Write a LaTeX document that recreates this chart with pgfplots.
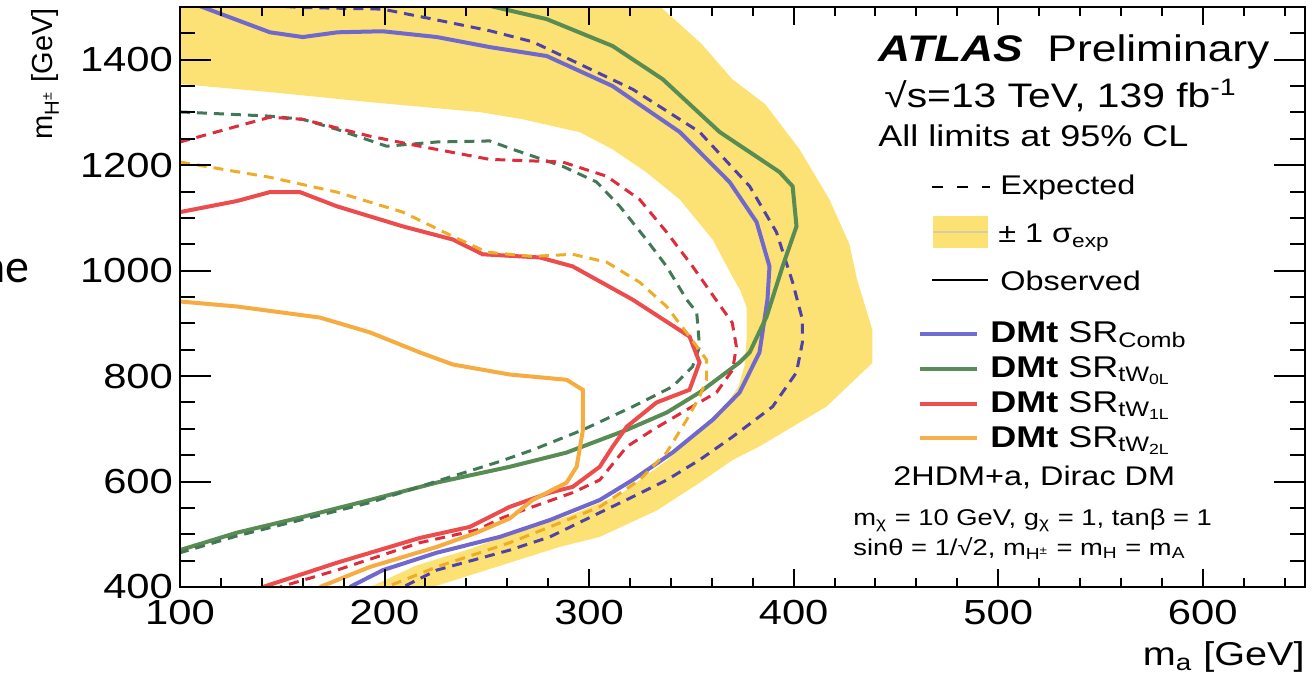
\documentclass[border=0pt]{standalone}
\usepackage{fontspec}
\setmainfont{Liberation Sans}[FakeStretch=1.2]
\newfontfamily\plainsans{Liberation Sans}
\newfontfamily\slidefont{Carlito}
\usepackage{pgfplots}
\pgfplotsset{compat=1.18}

\definecolor{band}{RGB}{252,226,116}
\definecolor{cblue}{RGB}{112,104,204}
\definecolor{cbluedash}{RGB}{80,64,170}
\definecolor{cgreen}{RGB}{88,140,84}
\definecolor{cgreendash}{RGB}{66,120,86}
\definecolor{cred}{RGB}{236,76,76}
\definecolor{creddash}{RGB}{222,44,60}
\definecolor{corange}{RGB}{246,172,64}
\definecolor{corangedash}{RGB}{238,172,40}

\newcommand{\fs}[1]{\fontsize{#1}{#1}\selectfont}

\begin{document}
\begin{tikzpicture}
\useasboundingbox (-90pt,-47pt) rectangle (568pt,293.5pt);
\begin{axis}[
  at={(0pt,0pt)}, anchor=south west,
  scale only axis, width=562.5pt, height=290pt,
  xmin=100, xmax=650, ymin=400, ymax=1500,
  xtick={100,200,...,600},
  minor xtick={100,120,...,640},
  ytick={400,600,...,1400},
  minor ytick={400,450,...,1500},
  yticklabels={},
  major tick length=9pt, minor tick length=4.5pt,
  axis line style={line width=1pt},
  tick style={line width=1pt, black},
  axis on top,
  ticklabel style={font=\fs{17.4}},
  /pgf/number format/assume math mode=true,
  /pgf/number format/set thousands separator={},
  xticklabel style={yshift=-3pt},
]
% +-1 sigma expected band (combined)
\addplot[draw=none, fill=band] coordinates {
 (100,1500) (335,1500) (355,1430) (370,1363) (386,1316) (402.9,1230)
 (417.5,1135) (427.3,1050) (431,983) (438.5,888) (438.5,825) (416,742)
 (383,666) (370.2,641) (354,597.6) (333,545) (305.2,495) (285.6,476) (223.6,400)
 (193,400) (215,440) (240,470) (262,500) (290,535) (315,575) (338,640)
 (355,700) (366,740) (373,780) (376,820) (377,870) (377,930) (374,962) (370,989)
 (360.4,1059) (344.3,1135) (328,1186.6) (311.5,1230) (295.4,1262.6)
 (267.6,1287) (246.6,1300.6) (192.8,1319.6) (144,1338.6) (100,1354)
};
% Comb observed
\addplot[cblue, line width=2pt] coordinates {
 (104,1510) (144,1452) (160,1443) (177,1452) (199,1454) (225.6,1443) (251.4,1424)
 (279.3,1407) (311.5,1350) (344.3,1263) (368.7,1168) (381.9,1092) (388.2,1008)
 (387.2,945) (383.3,845) (373.6,769) (360.4,717) (340.8,655) (321.3,603)
 (305.2,565) (280.8,527) (256.3,495) (245,484) (225.5,465) (199.2,432) (183,400)
};
% Comb expected
\addplot[cbluedash, line width=1.5pt, dash pattern=on 5pt off 3.5pt] coordinates {
 (135,1505) (160,1499) (199,1496) (223.6,1477) (251.4,1455) (272.4,1434)
 (321.3,1344) (354,1263) (378.5,1160) (391.6,1073) (399.5,978) (404.3,907)
 (404.3,864) (401.4,807) (389.7,742) (370.2,685) (354,641) (338,603)
 (321.3,571) (305.2,541) (280.8,495) (261.2,470) (225.5,432) (209,400)
};
% tW0L observed
\addplot[cgreen, line width=2pt] coordinates {
 (245,1508) (279.3,1477) (311.5,1426) (336,1363) (363.8,1263) (393.1,1187)
 (399.5,1160) (401.4,1084) (394.6,1008) (386.8,913) (378.5,845) (373.6,826)
 (354,769) (338,731) (318.4,698) (289,655) (261.2,628) (225.5,598)
 (192.8,565) (160.1,533) (127.8,503) (100,470)
};
% tW0L expected
\addplot[cgreendash, line width=1.5pt, dash pattern=on 5pt off 3.5pt] coordinates {
 (100,1301) (144,1293) (160,1287) (176.7,1268) (201,1236) (225.5,1244)
 (251.4,1246) (262.7,1230) (287,1198) (303.7,1168) (315,1122) (328,1059)
 (337.9,1008) (347.7,945) (352.6,921) (354,856) (350.6,818) (340.8,780)
 (321.3,742) (296.9,698) (272.4,660) (256.3,638) (225,600) (192.8,560)
 (160,528) (128,497) (100,465)
};
% tW1L observed
\addplot[cred, line width=2pt] coordinates {
 (100,1111) (127.8,1132) (144,1149) (158.6,1149) (176.7,1122) (208.9,1084)
 (233.4,1059) (248,1031) (275.9,1025) (292,1008) (321.3,945) (349.1,875)
 (354,826) (349.1,774) (333,750) (318.4,704) (311.5,666) (305.2,628)
 (292,590) (280.8,579) (261.2,552) (241.7,514) (217.2,493) (176.7,446) (140.5,400)
};
% tW1L expected
\addplot[creddash, line width=1.5pt, dash pattern=on 5pt off 3.5pt] coordinates {
 (100,1244) (144,1291) (160,1287) (192.8,1255) (217.2,1236) (251.4,1211)
 (287,1206) (308.6,1179) (324.7,1135) (337.9,1073) (350.6,1008) (362,945)
 (370,901) (372,856) (370.2,812) (362.3,769) (347.7,736) (331.1,698)
 (318.4,666) (305.2,603) (292,579) (272.4,552) (258,532) (245,508)
 (217.2,484) (176.7,432) (148.9,400)
};
% tW2L observed
\addplot[corange, line width=2pt] coordinates {
 (100,941.5) (127.8,932) (168.4,911) (192.8,883) (217.2,845) (233.4,822)
 (261.2,803) (289,793) (296.9,774) (297,698) (293.9,628) (289,598)
 (272.4,565) (261.2,530) (245,503) (225.5,476) (192.8,438) (168.4,400)
};
% tW2L expected
\addplot[corangedash, line width=1.5pt, dash pattern=on 5pt off 3.5pt] coordinates {
 (100,1206) (144,1177) (176.7,1149) (208.9,1111) (233.4,1065) (250,1035)
 (272.4,1027) (292,1031) (308.6,1016) (324.7,978) (337.9,932) (349.1,875)
 (357.4,831) (357.4,793) (354,761) (347.7,717) (337.9,655) (324.7,603)
 (305.2,552) (280.8,514) (261.2,484) (225.5,438) (201,400)
};
\end{axis}
% second axis: longer y ticks
\begin{axis}[
  at={(0pt,0pt)}, anchor=south west,
  scale only axis, width=562.5pt, height=290pt,
  xmin=100, xmax=650, ymin=400, ymax=1500,
  xtick=\empty,
  ytick={400,600,...,1400},
  minor ytick={400,450,...,1500},
  ticklabel style={font=\fs{17.4}},
  /pgf/number format/assume math mode=true,
  /pgf/number format/set thousands separator={},
  major tick length=15.5pt, minor tick length=7.5pt,
  axis line style={line width=1pt},
  tick style={line width=1pt, black},
]
\end{axis}

% axis labels
\node[anchor=base east, inner sep=0pt, font=\fs{16.5}] at (562.5pt,-39pt)
  {m\textsubscript{a} [GeV]};
\node[anchor=base east, inner sep=0pt, rotate=90, font=\plainsans\fontsize{14.5}{14.5}\selectfont]
  at (-63.5pt,289.5pt) {m\textsubscript{H\textsuperscript{±}} [GeV]};

% stray slide text
\node[anchor=base east, inner sep=0pt, font=\slidefont\fontsize{24}{24}\selectfont]
  at (-75pt,152.5pt) {ne};

% legend / labels
\node[anchor=base west, inner sep=0pt, font=\fs{18.5}] at (349pt,262.5pt)
  {\textbf{\textit{ATLAS}}\hspace{6pt} Preliminary};
\node[anchor=base west, inner sep=0pt, font=\fs{17}] at (352pt,239.5pt)
  {√s=13 TeV, 139 fb\textsuperscript{-1}};
\node[anchor=base west, inner sep=0pt, font=\fs{15}] at (349pt,220pt)
  {All limits at 95\% CL};

\draw[black, line width=1.2pt, dash pattern=on 5.5pt off 7pt] (376pt,200pt) -- (405pt,200pt);
\node[anchor=base west, inner sep=0pt, font=\fs{13.5}] at (410pt,196pt) {Expected};

\fill[band] (376.5pt,169.5pt) rectangle (404pt,185.5pt);
\draw[color={rgb,255:red,215;green,205;blue,160}, line width=0.6pt] (376.5pt,177.5pt) -- (404pt,177.5pt);
\node[anchor=base west, inner sep=0pt, font=\fs{13.5}] at (409pt,172pt) {± 1 σ\textsubscript{exp}};

\draw[black, line width=1pt] (376pt,153.5pt) -- (404pt,153.5pt);
\node[anchor=base west, inner sep=0pt, font=\fs{13.5}] at (410pt,148.5pt) {Observed};

\draw[color={rgb,255:red,110;green,110;blue,210}, line width=2pt] (370pt,126.5pt) -- (398.5pt,126.5pt);
\node[anchor=base west, inner sep=0pt, font=\fs{15}] at (405pt,122.5pt) {\textbf{DMt} SR\textsubscript{Comb}};
\draw[color={rgb,255:red,90;green,140;blue,90}, line width=2pt] (370pt,109pt) -- (398.5pt,109pt);
\node[anchor=base west, inner sep=0pt, font=\fs{15}] at (405pt,105pt) {\textbf{DMt} SR\textsubscript{tW\textsubscript{0L}}};
\draw[color={rgb,255:red,235;green,80;blue,80}, line width=2pt] (370pt,91.5pt) -- (398.5pt,91.5pt);
\node[anchor=base west, inner sep=0pt, font=\fs{15}] at (405pt,87.5pt) {\textbf{DMt} SR\textsubscript{tW\textsubscript{1L}}};
\draw[color={rgb,255:red,245;green,175;blue,75}, line width=2pt] (370pt,74.5pt) -- (398.5pt,74.5pt);
\node[anchor=base west, inner sep=0pt, font=\fs{15}] at (405pt,70pt) {\textbf{DMt} SR\textsubscript{tW\textsubscript{2L}}};

\node[anchor=base west, inner sep=0pt, font=\fs{13.5}] at (356.5pt,51pt) {2HDM+a, Dirac DM};
\node[anchor=base west, inner sep=0pt, font=\fs{11.4}] at (336.5pt,31pt)
  {m\textsubscript{χ} = 10 GeV, g\textsubscript{χ} = 1, tanβ = 1};
\node[anchor=base west, inner sep=0pt, font=\fs{11.4}] at (336.5pt,16pt)
  {sinθ = 1/√2, m\textsubscript{H\textsuperscript{±}} = m\textsubscript{H} = m\textsubscript{A}};
\end{tikzpicture}
\end{document}
